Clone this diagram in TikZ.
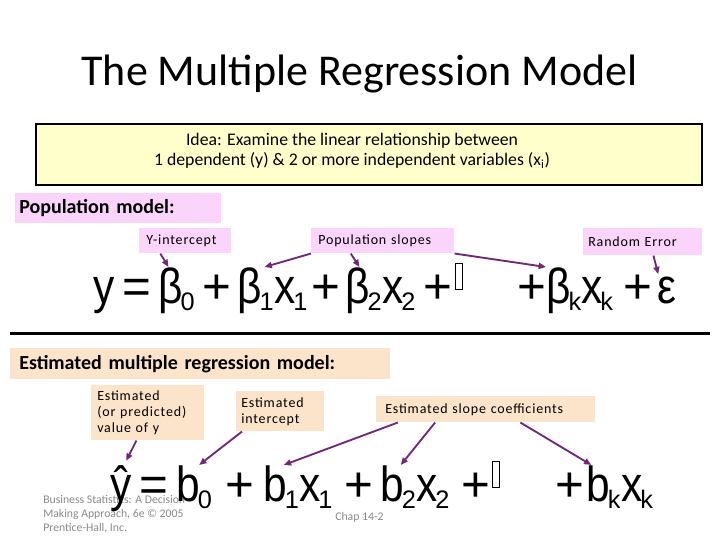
\documentclass[tikz,border=0pt]{standalone}
\usepackage{fontspec}
\setmainfont{Carlito}
\newfontfamily\arialfont[FakeStretch=0.86]{Liberation Sans}
\newfontfamily\opfont{Liberation Sans}
\newfontfamily\tagfont[LetterSpace=6]{Carlito}
\usetikzlibrary{arrows.meta, positioning, calc}

\definecolor{pinkfill}{RGB}{250,212,250}
\definecolor{peachfill}{RGB}{252,228,202}
\definecolor{ideafill}{RGB}{255,255,204}
\definecolor{arrowpurple}{RGB}{112,40,120}
\definecolor{footgray}{RGB}{137,137,137}

\newcommand{\lowidx}[1]{\kern-1.5pt\raisebox{-5.5pt}{\opfont\fontsize{19}{20}\selectfont #1}}

\begin{document}
\begin{tikzpicture}[
    x=0.75pt, y=-0.75pt,
    title/.style={font=\fontsize{33}{40}\selectfont, anchor=base, inner sep=0pt},
    heading/.style={font=\bfseries\fontsize{15}{18}\selectfont, anchor=north west, align=left, inner ysep=0pt},
    tag/.style={font=\tagfont\fontsize{10.5}{12}\selectfont, anchor=north west, align=left, inner ysep=0pt},
    eq/.style={font=\arialfont\fontsize{37}{44}\selectfont, anchor=base west, inner sep=0pt},
    op/.style={eq, font=\opfont\fontsize{37}{44}\selectfont},
    tofu/.style={draw, line width=0.6pt, minimum width=5.25pt, minimum height=19.5pt, inner sep=0pt, anchor=north west},
    footnote/.style={font=\fontsize{8.8}{10.5}\selectfont, text=footgray, inner sep=0pt},
    pointer/.style={draw=arrowpurple, line width=1.4pt, -{Triangle[length=5.5pt, width=4.5pt]}}
]
\useasboundingbox (0,0) rectangle (720,540);

% Title
\node[title] (title) at (359.5,85) {The Multiple Regression Model};

% Idea box
\node[draw, line width=1.5pt, fill=ideafill, minimum width=499.5pt, minimum height=45.75pt, inner sep=0pt] (idea) at (369,154.5) {};
\node[font=\fontsize{13.3}{15}\selectfont, align=center] (ideatext) at (352,151) {Idea: Examine the linear relationship between\\1 dependent (y) \& 2 or more independent variables (x\textsubscript{i})};

% Population model labels
\node[heading, fill=pinkfill, minimum height=22.5pt, inner xsep=3pt, text width=148.5pt] (popmodel) at (15,193) {Population model:};
\node[tag, fill=pinkfill, minimum height=18.75pt, inner xsep=5.25pt, text width=58.5pt] (yint) at (139,228) {Y-intercept};
\node[tag, fill=pinkfill, minimum height=18.75pt, inner xsep=5.25pt, text width=96.75pt] (popslopes) at (311,228) {Population slopes};
\node[tag, fill=pinkfill, minimum height=20.25pt, inner xsep=3.75pt, text width=81.75pt] (randerr) at (583,228) {Random Error};

% Population formula
\node[eq] (ly) at (93,303) {y};
\node[op] (leq) at (122,303) {=};
\node[eq] (lb0) at (158,303) {β\lowidx{0}};
\node[op] (lp1) at (202,303) {+};
\node[eq] (lb1) at (237,303) {β\lowidx{1}};
\node[eq] (lx1) at (274,303) {x\lowidx{1}};
\node[op] (lp2) at (311,303) {+};
\node[eq] (lb2) at (345,303) {β\lowidx{2}};
\node[eq] (lx2) at (382,303) {x\lowidx{2}};
\node[op] (lp3) at (423,303) {+};
\node[tofu] (lgap) at (455,263) {};
\node[op] (lp4) at (517,303) {+};
\node[eq] (lbk) at (546,303) {β\lowidx{k}};
\node[eq] (lxk) at (581,303) {x\lowidx{k}};
\node[op] (lp5) at (623,303) {+};
\node[eq] (leps) at (657,303) {ε};

% Separator
\coordinate (rulel) at (10,333);
\coordinate (ruler) at (710,333);
\draw[line width=2.25pt] (rulel) -- (ruler);

% Estimated model labels
\node[heading, fill=peachfill, minimum height=23.25pt, inner xsep=6.75pt, text width=271.5pt] (estmodel) at (10,348) {Estimated multiple regression model:};
\node[tag, fill=peachfill, minimum height=41.25pt, inner xsep=4.5pt, text width=75.75pt] (estval) at (91,385) {Estimated\\(or predicted)\\value of y};
\node[tag, fill=peachfill, minimum height=30pt, inner xsep=3.75pt, text width=58.5pt] (estint) at (236,391) {Estimated\\intercept};
\node[tag, fill=peachfill, minimum height=19.5pt, inner xsep=6.75pt, text width=150.75pt] (estslope) at (376,396) {Estimated slope coefficients};

% Footer
\node[footnote, anchor=north west, align=left] (footer) at (43,495) {Business Statistics: A Decision-\\Making Approach, 6e © 2005\\Prentice-Hall, Inc.};
\node[footnote, anchor=base west] (chap) at (335,520) {Chap 14-2};

% Estimated formula
\node[eq] (ry) at (110,501) {ŷ};
\node[op] (req) at (139,501) {=};
\node[eq] (rb0) at (176,501) {b\lowidx{0}};
\node[op] (rp1) at (225,501) {+};
\node[eq] (rb1) at (263,501) {b\lowidx{1}};
\node[eq] (rx1) at (299,501) {x\lowidx{1}};
\node[op] (rp2) at (344,501) {+};
\node[eq] (rb2) at (380,501) {b\lowidx{2}};
\node[eq] (rx2) at (416,501) {x\lowidx{2}};
\node[op] (rp3) at (461,501) {+};
\node[tofu] (rgap) at (492,461) {};
\node[op] (rp4) at (555,501) {+};
\node[eq] (rbk) at (586,501) {b\lowidx{k}};
\node[eq] (rxk) at (621,501) {x\lowidx{k}};

% Arrows, population
\draw[pointer] ([xshift=-18.75pt]yint.south) -- ([xshift=-6pt]lb0.north);
\draw[pointer] (popslopes.south west) -- ([xshift=6.75pt]lb1.north);
\draw[pointer] ([xshift=-24pt]popslopes.south) -- ([xshift=-3pt]lb2.north);
\draw[pointer] (popslopes.south east) -- (lbk.north west);
\draw[pointer] ([xshift=8pt]randerr.south) -- ([xshift=-6.4pt,yshift=1.5pt]leps.north);

% Arrows, estimated
\draw[pointer] ([xshift=-8.5pt]estval.south) -- ([xshift=4pt,yshift=3pt]ry.north);
\draw[pointer] ([xshift=4.5pt]estint.south west) -- ([xshift=3.75pt]rb0.north);
\draw[pointer] ([xshift=-66pt]estslope.south) -- ([xshift=2pt]rb1.north);
\draw[pointer] ([xshift=-38pt]estslope.south) -- ([xshift=2pt]rb2.north);
\draw[pointer] ([xshift=26pt]estslope.south) -- ([xshift=4pt]rbk.north west);

\end{tikzpicture}
\end{document}
